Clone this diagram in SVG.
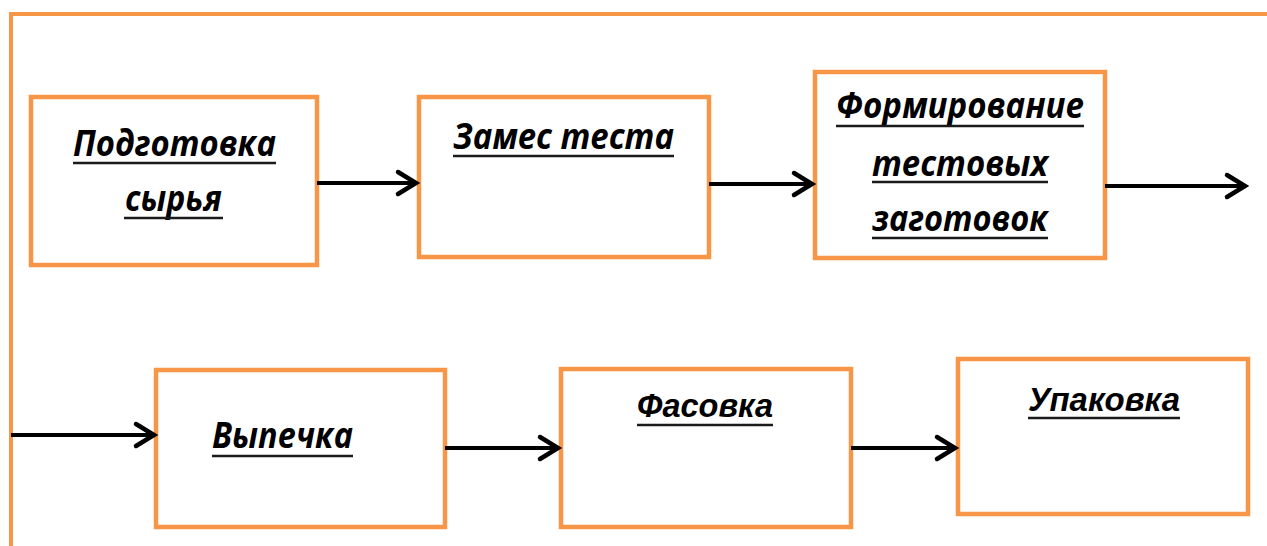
<svg xmlns="http://www.w3.org/2000/svg" width="1267" height="546" viewBox="0 0 1267 546">
  <style>
    .frame { fill: none; stroke: #F79646; stroke-width: 4; }
    .box { fill: #FFFFFF; stroke: #F79646; stroke-width: 4.5; }
    .lbl { font-family: "Open Sans", "Noto Sans", sans-serif; font-weight: bold; font-style: italic; font-size: 35px; fill: #000000; }
    .lbl2 { font-family: "Liberation Sans", Arial, sans-serif; font-weight: bold; font-style: italic; font-size: 33px; fill: #000000; }
    .ul { stroke: #1a1a1a; stroke-width: 2.5; }
    .conn { stroke: #000000; stroke-width: 4; fill: none; marker-end: url(#chevron); }
  </style>
  <defs>
    <marker id="chevron" markerUnits="userSpaceOnUse" markerWidth="30" markerHeight="30" viewBox="-22 -15 26 30" refX="0" refY="0" orient="auto">
      <path d="M-18,-11 L0,0 L-18,11" fill="none" stroke="#000000" stroke-width="4.5" stroke-linecap="round" stroke-linejoin="miter"/>
    </marker>
  </defs>

  <rect width="1267" height="546" fill="#FFFFFF"/>

  <!-- open outer frame: top and left edges only -->
  <path class="frame" d="M11,546 L11,14 L1267,14"/>

  <g id="node-podgotovka">
    <rect class="box" x="31" y="97" width="286" height="168"/>
    <text class="lbl" x="73" y="156" textLength="203" lengthAdjust="spacingAndGlyphs">Подготовка</text>
    <line class="ul" x1="73" y1="163" x2="276" y2="163"/>
    <text class="lbl" x="125" y="211" textLength="97" lengthAdjust="spacingAndGlyphs">сырья</text>
    <line class="ul" x1="124" y1="218" x2="223" y2="218"/>
  </g>

  <g id="node-zames">
    <rect class="box" x="419" y="97" width="290" height="160"/>
    <text class="lbl" x="453" y="149" textLength="221" lengthAdjust="spacingAndGlyphs">Замес теста</text>
    <line class="ul" x1="453" y1="156" x2="674" y2="156"/>
  </g>

  <g id="node-formirovanie">
    <rect class="box" x="815" y="72" width="290" height="186"/>
    <text class="lbl" x="836" y="118" textLength="248" lengthAdjust="spacingAndGlyphs">Формирование</text>
    <line class="ul" x1="836" y1="126" x2="1084" y2="126"/>
    <text class="lbl" x="872" y="176" textLength="176" lengthAdjust="spacingAndGlyphs">тестовых</text>
    <line class="ul" x1="872" y1="182" x2="1048" y2="182"/>
    <text class="lbl" x="872" y="231" textLength="176" lengthAdjust="spacingAndGlyphs">заготовок</text>
    <line class="ul" x1="872" y1="238" x2="1048" y2="238"/>
  </g>

  <g id="node-vypechka">
    <rect class="box" x="156" y="370" width="289" height="157"/>
    <text class="lbl" x="212" y="448" textLength="141" lengthAdjust="spacingAndGlyphs">Выпечка</text>
    <line class="ul" x1="212" y1="456" x2="353" y2="456"/>
  </g>

  <g id="node-fasovka">
    <rect class="box" x="561" y="369" width="290" height="158"/>
    <text class="lbl2" x="637" y="417" textLength="136" lengthAdjust="spacingAndGlyphs">Фасовка</text>
    <line class="ul" x1="637" y1="425" x2="773" y2="425"/>
  </g>

  <g id="node-upakovka">
    <rect class="box" x="958" y="359" width="290" height="155"/>
    <text class="lbl2" x="1028" y="411" textLength="152" lengthAdjust="spacingAndGlyphs">Упаковка</text>
    <line class="ul" x1="1028" y1="418" x2="1180" y2="418"/>
  </g>

  <g id="connectors">
    <line class="conn" x1="317" y1="183" x2="416" y2="183"/>
    <line class="conn" x1="709" y1="184" x2="812" y2="184"/>
    <line class="conn" x1="1105" y1="186" x2="1245" y2="186"/>
    <line class="conn" x1="11" y1="435" x2="154" y2="435"/>
    <line class="conn" x1="445" y1="448" x2="558" y2="448"/>
    <line class="conn" x1="851" y1="448" x2="955" y2="448"/>
  </g>
</svg>
